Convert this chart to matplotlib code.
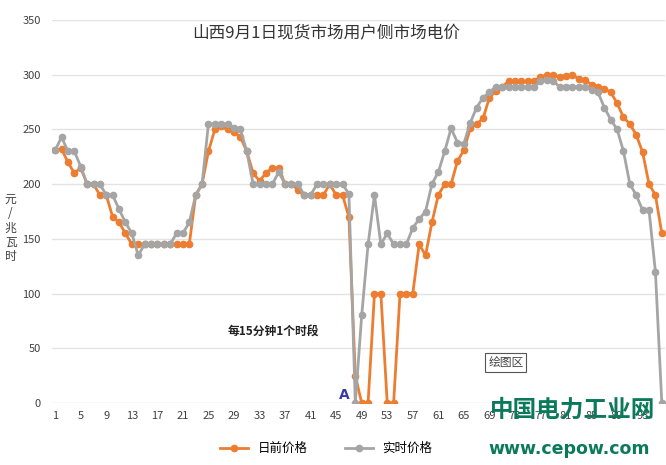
import numpy as np
import matplotlib
matplotlib.use('Agg')
from matplotlib import pyplot as plt

plt.rcParams['font.family'] = ['Noto Sans CJK SC', 'DejaVu Sans']

# 96 periods of 15 minutes
periods = list(range(1, 97))

# day-ahead price (日前价格)
day_ahead = [231, 232, 220, 210, 215, 200, 200, 190, 190, 170,
             165, 155, 145, 145, 145, 145, 145, 145, 145, 145,
             145, 145, 190, 200, 230, 250, 253, 250, 248, 243,
             230, 210, 203, 210, 215, 215, 200, 200, 195, 190,
             190, 190, 190, 200, 190, 190, 170, 25, 0, 0,
             100, 100, 0, 0, 100, 100, 100, 145, 135, 165,
             190, 200, 200, 221, 231, 251, 255, 260, 279, 285,
             289, 294, 294, 294, 294, 294, 298, 300, 300, 298,
             299, 300, 296, 295, 291, 289, 287, 284, 274, 261,
             255, 245, 229, 200, 190, 155]

# real-time price (实时价格)
real_time = [231, 243, 230, 230, 216, 200, 200, 200, 190, 190,
             177, 165, 155, 135, 145, 145, 145, 145, 145, 155,
             155, 165, 190, 200, 255, 255, 255, 255, 251, 250,
             230, 200, 200, 200, 200, 211, 200, 200, 200, 190,
             190, 200, 200, 200, 200, 200, 191, 0, 80, 145,
             190, 145, 155, 145, 145, 145, 160, 168, 175, 200,
             211, 230, 251, 238, 237, 256, 270, 279, 284, 289,
             289, 289, 289, 289, 289, 289, 294, 295, 294, 289,
             289, 289, 289, 289, 286, 284, 270, 259, 250, 230,
             200, 190, 176, 176, 120, 0]

xticks = list(range(1, 97, 4))
yticks = [0, 50, 100, 150, 200, 250, 300, 350]

fig = plt.figure(figsize=(6.66, 4.65), dpi=100)
ax = fig.add_axes([52/666, 62/465, 613/666, 383/465])

ax.plot(periods, day_ahead, color='#ED7D31', lw=2.0, marker='o', ms=4.5,
        label='日前价格', zorder=3)
ax.plot(periods, real_time, color='#A5A5A5', lw=2.0, marker='o', ms=4.5,
        label='实时价格', zorder=4)

ax.set_xlim(0.5, 96.5)
ax.set_ylim(0, 350)
ax.set_xticks(xticks)
ax.set_yticks(yticks)
ax.tick_params(length=0, labelsize=8, colors='#404040')
ax.tick_params(axis='y', pad=8)
ax.tick_params(axis='x', pad=6)
for s in ax.spines.values():
    s.set_visible(False)
ax.grid(axis='y', color='#e3e3e3', lw=1)
ax.set_axisbelow(True)

fig.text(0.49, 0.927, '山西9月1日现货市场用户侧市场电价', ha='center', va='center',
         fontsize=12, color='#333333')
fig.text(0.016, 0.51, '元\n/\n兆\n瓦\n时', ha='center', va='center',
         fontsize=8.5, color='#404040', linespacing=1.15)
ax.text(28, 66, '每15分钟1个时段', ha='left', va='center', fontsize=8.5,
        color='#222222', fontweight='bold')
ax.text(46.3, 7, 'A', ha='center', va='center', fontsize=10, color='#3a3aa8',
        fontweight='bold', family='DejaVu Sans')
ax.text(68.8, 37, '绘图区', ha='left', va='center', fontsize=8.5, color='#444444',
        bbox=dict(boxstyle='square,pad=0.25', fc='white', ec='#555555', lw=0.8))

# watermark
fig.text(0.86, 0.118, '中国电力工业网', ha='center', va='center', fontsize=17,
         color='#0b7a5a', fontweight='bold')
fig.text(0.855, 0.035, 'www.cepow.com', ha='center', va='center', fontsize=12.5,
         color='#0b7a5a', fontweight='bold', family='DejaVu Sans')

fig.legend(loc='center', bbox_to_anchor=(0.49, 0.035), ncol=2, frameon=False,
           fontsize=9, handlelength=2.2, columnspacing=3)

fig.savefig('out.png', dpi=100)
